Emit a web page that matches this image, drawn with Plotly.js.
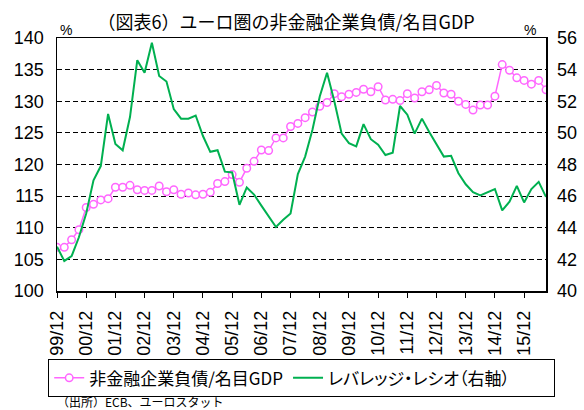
<!DOCTYPE html>
<html>
<head>
<meta charset="utf-8">
<script src="https://cdn.plot.ly/plotly-3.0.1.min.js"></script>
<style>
html,body{margin:0;padding:0;background:#fff;}
#chart{width:584px;height:410px;}
#chart .legendtext{font-feature-settings:"palt" 1;}
</style>
</head>
<body>
<div id="chart"></div>
<script>
// Quarterly categories (99/12 .. 16/9)
const quarters = [
  "99/12",
  "00/3","00/6","00/9","00/12",
  "01/3","01/6","01/9","01/12",
  "02/3","02/6","02/9","02/12",
  "03/3","03/6","03/9","03/12",
  "04/3","04/6","04/9","04/12",
  "05/3","05/6","05/9","05/12",
  "06/3","06/6","06/9","06/12",
  "07/3","07/6","07/9","07/12",
  "08/3","08/6","08/9","08/12",
  "09/3","09/6","09/9","09/12",
  "10/3","10/6","10/9","10/12",
  "11/3","11/6","11/9","11/12",
  "12/3","12/6","12/9","12/12",
  "13/3","13/6","13/9","13/12",
  "14/3","14/6","14/9","14/12",
  "15/3","15/6","15/9","15/12",
  "16/3","16/6","16/9"
];
// 非金融企業負債/名目GDP (%), left axis
const debtToGdp = [
  106.9,
  106.9,108.1,109.7,113.2,
  113.7,114.4,114.6,116.4,
  116.4,116.7,116.0,115.9,
  115.9,116.6,115.7,116.0,
  115.3,115.5,115.2,115.3,
  115.6,117.0,117.3,118.4,
  117.2,119.4,120.5,122.3,
  122.2,124.2,124.2,126.0,
  126.5,127.4,128.3,129.2,
  129.8,131.2,130.7,131.1,
  131.4,131.9,131.5,132.3,
  130.2,130.3,130.1,131.2,
  130.5,131.5,131.8,132.5,
  131.3,131.1,130.0,129.5,
  128.6,129.4,129.4,130.8,
  135.8,134.9,133.7,133.3,
  132.7,133.3,131.8
];
// レバレッジ・レシオ (%), right axis
const leverage = [
  42.8,
  41.9,42.2,43.4,44.9,
  47.0,47.9,51.2,49.3,
  48.9,51.0,54.6,53.8,
  55.7,53.6,53.25,51.5,
  50.9,50.9,51.1,49.8,
  48.8,48.9,47.55,47.5,
  45.45,46.55,46.1,45.4,
  44.7,44.05,44.5,44.9,
  47.4,48.5,50.2,52.3,
  53.8,52.0,49.95,49.35,
  49.15,50.55,49.6,49.25,
  48.6,48.75,51.7,51.15,
  49.95,50.9,50.05,49.25,
  48.5,48.55,47.45,46.75,
  46.25,46.05,46.25,46.45,
  45.1,45.65,46.65,45.6,
  46.45,46.9,45.95
];
const seriesNames = ["非金融企業負債/名目GDP", "レバレッジ・レシオ（右軸）"];
const tickLabels = quarters.filter(q => q.endsWith("/12"));

const baseFont = "Liberation Sans, Arial, 'Noto Sans CJK JP', sans-serif";
const cjkFont = "'Noto Sans CJK JP', 'Liberation Sans', sans-serif";

const traces = [
  {
    x: quarters, y: debtToGdp, name: seriesNames[0], type: "scatter", mode: "lines+markers",
    line: {color: "#FF66FF", width: 1.5},
    marker: {symbol: "circle", size: 7.5, color: "#ffffff", line: {color: "#FF66FF", width: 1.5}},
    yaxis: "y"
  },
  {
    x: quarters, y: leverage, name: seriesNames[1], type: "scatter", mode: "lines",
    line: {color: "#00B050", width: 2},
    yaxis: "y2"
  }
];

const layout = {
  width: 584, height: 410,
  margin: {l: 57, r: 38, t: 38, b: 119, pad: 0},
  paper_bgcolor: "#ffffff", plot_bgcolor: "#ffffff",
  font: {family: baseFont, size: 18, color: "#000"},
  title: {
    text: "（図表6）ユーロ圏の非金融企業負債/名目GDP",
    font: {family: cjkFont, size: 18, color: "#000"},
    x: 0.49, xref: "container", xanchor: "center",
    y: 0.944, yref: "container", yanchor: "middle"
  },
  showlegend: true,
  legend: {
    orientation: "h", x: -0.018, xanchor: "left", y: -0.27, yanchor: "top",
    bordercolor: "#000", borderwidth: 1, bgcolor: "#fff",
    font: {family: cjkFont, size: 17, color: "#000"},
    traceorder: "normal", itemwidth: 30
  },
  xaxis: {
    type: "category", range: [0, quarters.length - 1],
    tickmode: "array", tickvals: tickLabels, ticktext: tickLabels,
    tickangle: -90, ticks: "outside", ticklen: 5, tickcolor: "#000", tickwidth: 1,
    showline: true, linecolor: "#000", linewidth: 1.5, mirror: true,
    showgrid: false, zeroline: false, ticklabelstandoff: 6,
    tickfont: {family: baseFont, size: 18, color: "#000"}
  },
  yaxis: {
    range: [100, 140], dtick: 5, tick0: 100, ticks: "",
    showline: true, linecolor: "#000", linewidth: 1.5,
    showgrid: true, gridcolor: "#000", gridwidth: 1, griddash: "5px,3px",
    zeroline: false, ticklabelstandoff: 8,
    tickfont: {family: baseFont, size: 18, color: "#000"}
  },
  yaxis2: {
    range: [40, 56], dtick: 2, tick0: 40, ticks: "", overlaying: "y", side: "right",
    showline: true, linecolor: "#000", linewidth: 1.5,
    showgrid: false, zeroline: false, ticklabelstandoff: 6,
    tickfont: {family: baseFont, size: 18, color: "#000"}
  },
  annotations: [
    {text: "%", xref: "paper", yref: "paper", x: 0.018, y: 1.03, xanchor: "center", yanchor: "middle",
     showarrow: false, font: {family: baseFont, size: 14, color: "#000"}},
    {text: "%", xref: "paper", yref: "paper", x: 0.967, y: 1.03, xanchor: "center", yanchor: "middle",
     showarrow: false, font: {family: baseFont, size: 14, color: "#000"}},
    {text: "（出所）ECB、ユーロスタット", xref: "paper", yref: "paper", x: -0.004, y: -0.436,
     xanchor: "left", yanchor: "middle", showarrow: false,
     font: {family: cjkFont, size: 12, color: "#000"}}
  ]
};

Plotly.newPlot("chart", traces, layout, {displayModeBar: false, staticPlot: true});
</script>
</body>
</html>
